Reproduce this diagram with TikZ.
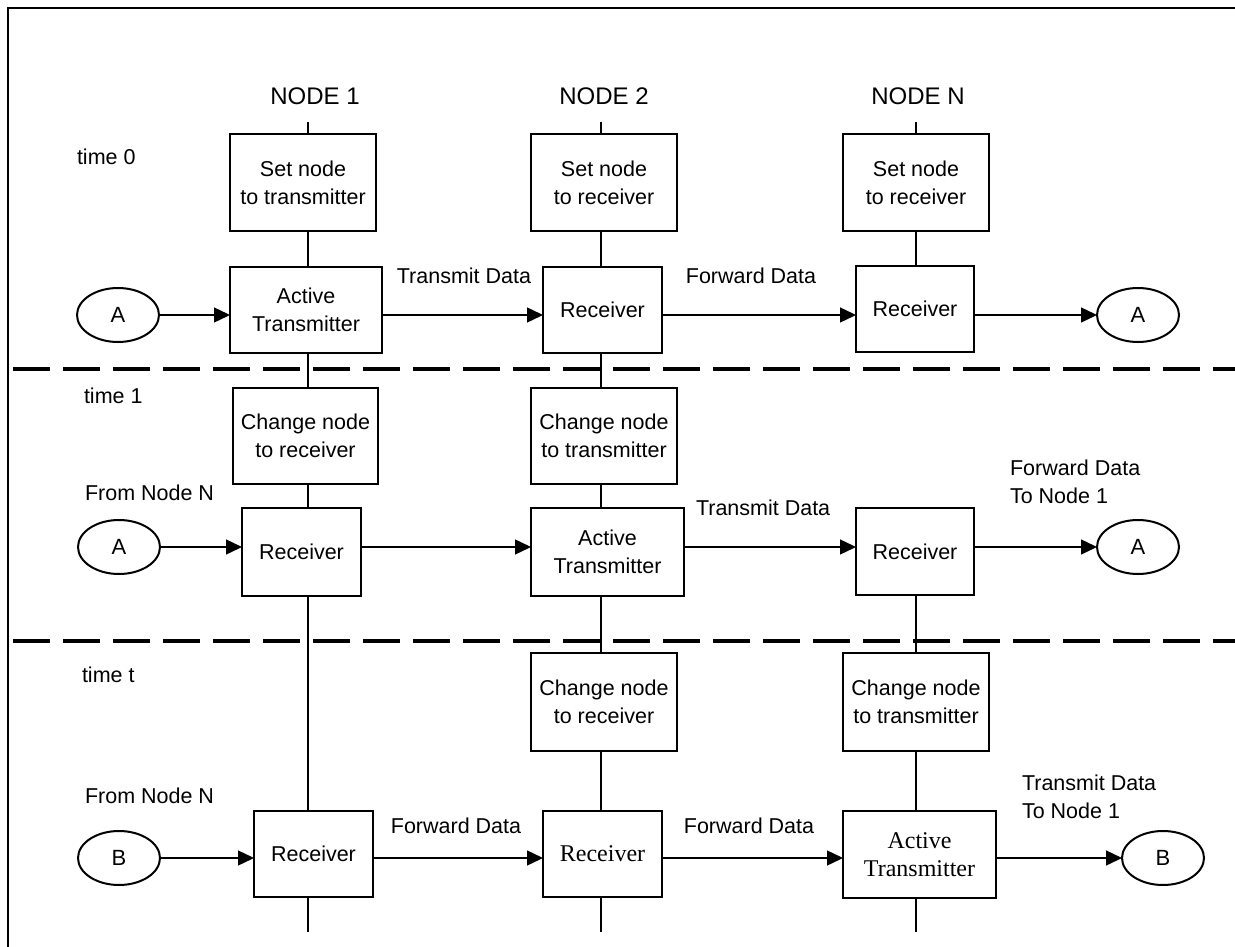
\documentclass[tikz,border=0pt]{standalone}
\usepackage{fontspec}
\setmainfont{Liberation Sans}
\newfontfamily\timesfont{Liberation Serif}
\usetikzlibrary{arrows.meta,shapes.geometric}

\begin{document}
\begin{tikzpicture}[x=1pt,y=-1pt,
  every node/.style={inner sep=0pt, outer sep=0pt},
  lbl/.style={font=\fontsize{21.5}{28}\selectfont},
  head/.style={font=\fontsize{24}{28}\selectfont},
  box/.style n args={2}{draw, line width=2pt, minimum width=#1pt, minimum height=#2pt,
    align=center, font=\fontsize{21.5}{28}\selectfont},
  serifbox/.style={font=\timesfont\fontsize{24}{28}\selectfont},
  port/.style={draw, ellipse, line width=2pt, minimum width=82pt, minimum height=54pt,
    font=\fontsize{22}{26}\selectfont},
  flow/.style={line width=1.4pt, -{Triangle[length=16pt,width=15pt]}},
  link/.style={line width=1.7pt},
  sep/.style={line width=4pt, dash pattern=on 37pt off 13pt},
]
\useasboundingbox (0,0) rectangle (1235,947);

% frame
\draw[line width=2pt] (8,947) -- (8,8) -- (1235,8);

% time slot separators
\draw[sep] (13,369) -- (1235,369);
\draw[sep] (13,641) -- (1235,641);

% column axes and free line ends
\coordinate (c1) at (308,0);
\coordinate (c2) at (601,0);
\coordinate (c3) at (916,0);
\coordinate (t1) at (308,122);
\coordinate (t2) at (601,122);
\coordinate (t3) at (916,122);
\coordinate (b1) at (308,932);
\coordinate (b2) at (601,932);
\coordinate (b3) at (916,932);

% column headings
\node[head, anchor=base] (h1) at (315,105) {NODE 1};
\node[head, anchor=base] (h2) at (604,105) {NODE 2};
\node[head, anchor=base] (h3) at (918,105) {NODE N};

% time labels
\node[lbl, anchor=base west] (time0) at (77,165) {time 0};
\node[lbl, anchor=base west] (time1) at (84,403) {time 1};
\node[lbl, anchor=base west] (timet) at (82,682) {time t};

% time 0
\node[box={146}{97}] (s1) at (303,182.5) {Set node\\to transmitter};
\node[box={146}{97}] (s2) at (604,182.5) {Set node\\to receiver};
\node[box={146}{97}] (s3) at (916,182.5) {Set node\\to receiver};
\node[box={152}{86}] (at0) at (306,310) {Active\\Transmitter};
\node[box={119}{86}] (r02) at (602.5,310) {Receiver};
\node[box={118}{86}] (r03) at (915,309) {Receiver};
\node[port] (a0l) at (118,315) {A};
\node[port] (a0r) at (1138,315) {A};
\node[lbl, anchor=base] (tx0) at (464,283) {Transmit Data};
\node[lbl, anchor=base] (fw0) at (751,283) {Forward Data};

% time 1
\node[box={145}{96}] (ch1) at (305.5,436) {Change node\\to receiver};
\node[box={146}{96}] (ch2) at (604,436) {Change node\\to transmitter};
\node[box={119}{88}] (r11) at (301.5,552) {Receiver};
\node[box={153}{88}] (at12) at (607.5,552) {Active\\Transmitter};
\node[box={118}{87}] (r13) at (915,551.5) {Receiver};
\node[port] (a1l) at (119,547) {A};
\node[port] (a1r) at (1138,547) {A};
\node[lbl, anchor=base west] (from1) at (85,500) {From Node N};
\node[lbl, anchor=base west] (tx1) at (696,515) {Transmit Data};
\node[lbl, anchor=north west, align=left] (fw1) at (1010,460) {Forward Data\\To Node 1};

% time t
\node[box={146}{98}] (ct2) at (604,702) {Change node\\to receiver};
\node[box={146}{98}] (ct3) at (916,702) {Change node\\to transmitter};
\node[box={119}{86}] (rt1) at (313.5,854) {Receiver};
\node[box={119}{86}, serifbox] (rt2) at (602.5,854) {Receiver};
\node[box={153}{87}, serifbox] (att3) at (919.5,854.5) {Active\\Transmitter};
\node[port] (btl) at (119,858) {B};
\node[port] (btr) at (1163,858) {B};
\node[lbl, anchor=base west] (fromt) at (85,803) {From Node N};
\node[lbl, anchor=base] (fwt1) at (456,833) {Forward Data};
\node[lbl, anchor=base] (fwt2) at (749,833) {Forward Data};
\node[lbl, anchor=north west, align=left] (txt) at (1022,775) {Transmit Data\\To Node 1};

% node 1 column
\draw[link] (t1) -- (s1.north -| c1);
\draw[link] (s1.south -| c1) -- (at0.north -| c1);
\draw[link] (at0.south -| c1) -- (ch1.north -| c1);
\draw[link] (ch1.south -| c1) -- (r11.north -| c1);
\draw[link] (r11.south -| c1) -- (rt1.north -| c1);
\draw[link] (rt1.south -| c1) -- (b1);

% node 2 column
\draw[link] (t2) -- (s2.north -| c2);
\draw[link] (s2.south -| c2) -- (r02.north -| c2);
\draw[link] (r02.south -| c2) -- (ch2.north -| c2);
\draw[link] (ch2.south -| c2) -- (at12.north -| c2);
\draw[link] (at12.south -| c2) -- (ct2.north -| c2);
\draw[link] (ct2.south -| c2) -- (rt2.north -| c2);
\draw[link] (rt2.south -| c2) -- (b2);

% node N column
\draw[link] (t3) -- (s3.north -| c3);
\draw[link] (s3.south -| c3) -- (r03.north -| c3);
\draw[link] (r13.south -| c3) -- (ct3.north -| c3);
\draw[link] (ct3.south -| c3) -- (att3.north -| c3);
\draw[link] (att3.south -| c3) -- (b3);

% data flow, time 0
\draw[flow] (a0l.east) -- (at0.west |- a0l);
\draw[flow] (at0.east |- a0l) -- (r02.west |- a0l);
\draw[flow] (r02.east |- a0l) -- (r03.west |- a0l);
\draw[flow] (r03.east |- a0l) -- (a0r.west);

% data flow, time 1
\draw[flow] (a1l.east) -- (r11.west |- a1l);
\draw[flow] (r11.east |- a1l) -- (at12.west |- a1l);
\draw[flow] (at12.east |- a1l) -- (r13.west |- a1l);
\draw[flow] (r13.east |- a1l) -- (a1r.west);

% data flow, time t
\draw[flow] (btl.east) -- (rt1.west |- btl);
\draw[flow] (rt1.east |- btl) -- (rt2.west |- btl);
\draw[flow] (rt2.east |- btl) -- (att3.west |- btl);
\draw[flow] (att3.east |- btl) -- (btr.west);
\end{tikzpicture}
\end{document}
